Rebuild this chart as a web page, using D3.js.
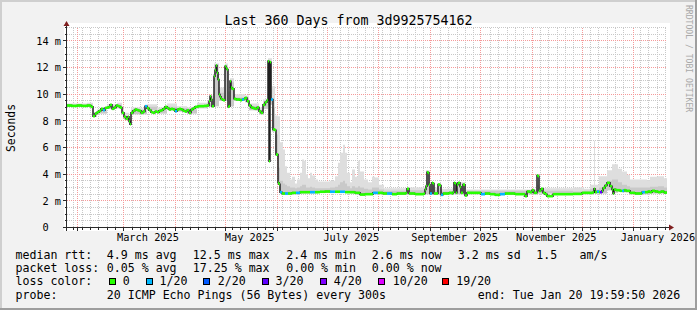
<!DOCTYPE html>
<html><head><meta charset="utf-8">
<script src="https://cdn.jsdelivr.net/npm/d3@7/dist/d3.min.js"></script>
<style>
html,body{margin:0;padding:0;background:#f2f2f2;}
svg{display:block;}
text{font-family:"DejaVu Sans Mono",monospace;fill:#000;}
</style></head><body>
<svg id="chart" width="697" height="310"></svg>
<script>
// ---------------- DATA ----------------
const title = "Last 360 Days from 3d9925754162";
const yAxisTitle = "Seconds";
const watermark = "RRDTOOL / TOBI OETIKER";
const startTime = "2025-01-25T19:59:50Z";
const endTime = "2026-01-20T19:59:50Z";
const yTickValues = [0, 2, 4, 6, 8, 10, 12, 14];        // ms
const yTickLabels = ["0", "2 m", "4 m", "6 m", "8 m", "10 m", "12 m", "14 m"];
const monthLabels = [
  ["2025-03-01", "March 2025"], ["2025-05-01", "May 2025"], ["2025-07-01", "July 2025"],
  ["2025-09-01", "September 2025"], ["2025-11-01", "November 2025"], ["2026-01-01", "January 2026"]
];
const minorGridDays = 5;
// median rtt [days since start, ms]
const median = [[0,9.15],[3,9.12],[6,9.15],[9,9.12],[12,9.15],[14.4,9.05],[15.6,8.35],[16.8,8.55],[18,8.65],[19.2,8.75],[20.4,8.9],[21.6,8.8],[22.8,8.97],[24,9.0],[25.2,9.05],[25.8,9.2],[27,8.9],[28.2,9.0],[29.4,9.15],[30.6,9.1],[31.8,9.0],[33,8.6],[34.2,8.3],[35.4,8.15],[36.6,8.3],[37.2,7.95],[37.8,7.75],[38.4,8.6],[39.6,8.75],[40.8,8.85],[42,8.8],[43.2,8.75],[44.4,8.6],[45.6,8.7],[46.8,9.1],[48,8.95],[49.2,8.8],[50.4,8.65],[51.6,8.6],[52.8,8.7],[54,8.65],[55.2,8.75],[56.4,8.8],[57.6,8.9],[58.8,9.05],[60,8.95],[61.2,8.85],[62.4,8.9],[63.6,8.85],[64.8,8.72],[66,8.85],[67.2,8.9],[68.4,8.85],[69.6,8.75],[70.8,8.7],[72,8.8],[73.2,8.6],[74.4,8.85],[75.6,8.95],[76.8,9.05],[78.6,9.1],[80.4,9.1],[82.2,9.12],[84,9.15],[85.2,9.47],[85.8,9.85],[86.4,9.6],[87,9.1],[87.6,9.1],[88.2,11.35],[88.8,11.8],[89.4,12.15],[90,11.6],[90.6,11.1],[91.2,9.97],[91.8,9.8],[92.4,9.65],[93,9.6],[93.6,9.55],[94.2,9.55],[94.8,12.1],[95.4,11.95],[96,11.85],[96.6,9.05],[97.2,9.1],[97.8,10.97],[98.4,10.5],[99,10.4],[99.6,10.4],[100.2,9.65],[101.4,9.6],[102.6,9.6],[103.8,9.55],[105,9.6],[106.2,9.65],[106.8,9.72],[108,9.47],[109.2,9.15],[110.4,9.0],[111.6,8.95],[112.8,8.9],[114,9.0],[115.2,8.72],[116.4,8.6],[117.6,9.2],[118.8,9.4],[120,9.55],[120.6,12.47],[121.2,4.97],[121.8,12.4],[122.4,9.6],[123.6,7.35],[124.8,7.3],[125.4,5.47],[126.6,3.35],[127.2,3.25],[127.8,2.65],[129,2.55],[130.8,2.55],[132.6,2.55],[135,2.6],[137.4,2.6],[139.8,2.65],[142.8,2.65],[145.8,2.65],[148.8,2.65],[151.8,2.68],[154.8,2.7],[157.8,2.68],[160.8,2.68],[163.8,2.68],[166.8,2.65],[169.8,2.65],[172.8,2.6],[175.8,2.47],[178.8,2.5],[181.8,2.5],[183.6,2.6],[186.6,2.6],[189.6,2.55],[192,2.55],[195,2.5],[198,2.55],[201,2.55],[203.4,2.6],[204,2.9],[204.6,2.9],[205.2,2.55],[208.8,2.5],[211.8,2.5],[214.2,2.55],[214.8,2.85],[215.4,3.1],[216,4.15],[216.6,4.1],[217.2,3.2],[217.8,2.55],[219,3.35],[219.6,3.3],[220.2,2.55],[222,2.55],[222.6,3.22],[223.8,3.15],[224.4,2.45],[225.6,2.55],[227.4,2.55],[229.2,2.6],[231,2.55],[231.6,2.65],[232.2,3.35],[232.8,3.3],[233.4,2.6],[234,3.2],[234.6,3.35],[235.8,3.05],[236.4,2.6],[237.6,3.22],[238.2,3.2],[238.8,2.4],[240,2.6],[243,2.6],[246,2.6],[248.4,2.5],[250.8,2.55],[253.8,2.5],[256.8,2.45],[259.8,2.5],[262.8,2.55],[265.8,2.55],[268.8,2.5],[271.8,2.5],[274.8,2.35],[276,2.7],[277.8,2.65],[279,2.8],[280.2,2.6],[281.4,2.6],[282,3.9],[282.6,3.85],[283.2,2.75],[284.4,2.9],[285.6,2.6],[286.8,2.5],[288,2.35],[289.8,2.35],[291.6,2.5],[294.6,2.5],[297.6,2.5],[300.6,2.5],[303.6,2.52],[306.6,2.52],[309,2.6],[311.4,2.6],[313.8,2.6],[315.6,2.65],[316.2,2.9],[316.8,2.65],[318,2.7],[319.2,2.65],[319.8,2.65],[321,2.75],[321.6,2.97],[322.8,3.15],[324,3.35],[324.6,3.35],[325.8,3.1],[327,2.85],[327.6,2.55],[328.2,2.85],[329.4,2.8],[330.6,2.8],[331.8,2.75],[333,2.75],[334.2,2.8],[335.4,2.75],[336.6,2.75],[337.8,2.6],[340.8,2.55],[343.8,2.55],[345,2.65],[346.8,2.65],[348.6,2.7],[349.8,2.65],[351,2.75],[352.8,2.7],[354.6,2.65],[356.4,2.7],[358.2,2.62]];
// samples with packet loss [day, loss level index]
const lossSamples = [[21.6,1],[46.8,1],[64.8,1],[105,1],[122.4,1],[127.8,1],[130.8,1],[137.4,1],[145.8,1],[157.8,1],[163.8,1],[183.6,1],[192,1],[217.8,1],[224.4,1],[248.4,1],[259.8,1],[318,1],[319.8,3],[333,1],[345,1]];
// smoke (ping spread) [day, low ms, inner ms, outer ms]
const smoke = [[0,9.05,9.2,9.3],[6,9.05,9.2,9.3],[12,9.05,9.2,9.35],[15.6,8.3,8.45,8.6],[18,8.55,8.7,8.85],[24,8.9,9.1,9.25],[30,8.95,9.2,9.35],[33,8.5,8.7,8.9],[34.2,8.1,8.35,8.6],[37.2,7.7,8.0,8.2],[38.4,8.5,8.8,9.0],[44.4,8.5,8.75,8.95],[48,8.8,9.05,9.25],[54,8.55,8.8,9.0],[60,8.85,9.05,9.3],[66,8.7,8.95,9.1],[72,8.55,8.85,9.0],[78,8.95,9.15,9.35],[84,9.05,9.3,9.45],[87,9.0,9.5,9.9],[88.2,9.1,11.5,12.3],[91.2,9.5,10.1,10.5],[94.2,9.45,9.7,9.9],[94.8,9.5,12.0,12.3],[96.6,9.0,9.5,10.2],[97.8,9.1,10.9,11.2],[100.2,9.5,9.75,10.0],[106.8,9.4,9.7,9.9],[109.2,8.8,9.1,9.3],[115.2,8.5,8.8,9.0],[117.6,8.9,9.3,9.6],[120.6,9.2,12.3,12.7],[123,7.2,9.0,10.6],[124.8,5.4,7.0,8.4],[126.6,3.3,4.5,8.35],[127.8,2.55,3.5,6.4],[129.6,2.5,3.3,5.85],[130.8,2.5,3.2,4.6],[132,2.5,3.1,4.1],[133.8,2.5,3.0,3.6],[135,2.5,3.0,3.8],[136.8,2.5,2.95,3.3],[138,2.5,3.0,3.6],[139.8,2.55,3.1,4.1],[141,2.55,3.2,5.1],[142.2,2.55,3.2,5.0],[143.4,2.55,3.0,4.0],[144.6,2.55,3.0,3.7],[145.8,2.55,3.05,4.1],[147,2.55,3.0,3.9],[148.8,2.55,2.95,3.6],[150.6,2.6,2.95,3.45],[157.8,2.6,3.0,3.5],[160.8,2.6,3.05,3.85],[162.6,2.6,3.2,4.85],[163.8,2.6,3.4,5.6],[165.6,2.6,3.5,6.2],[166.8,2.6,3.3,5.6],[168,2.6,3.1,4.1],[169.8,2.55,2.95,3.4],[171,2.55,3.1,4.35],[172.8,2.5,3.0,3.8],[174.6,2.45,3.1,5.0],[175.8,2.45,3.0,4.2],[178.2,2.45,2.9,3.6],[180.6,2.45,2.85,3.4],[183,2.5,3.0,3.8],[184.8,2.5,3.0,3.75],[187.2,2.5,2.85,3.2],[190.2,2.5,2.75,2.95],[204,2.5,2.8,3.0],[214.8,2.5,2.9,3.2],[215.4,2.5,3.4,4.3],[217.8,2.5,2.9,3.4],[219,2.5,3.1,3.4],[220.2,2.5,2.8,3.0],[222.6,2.5,3.0,3.3],[224.4,2.45,2.7,2.9],[231,2.5,2.75,2.95],[232.2,2.5,3.0,3.4],[234,2.5,3.0,3.4],[238.8,2.4,2.7,2.85],[240,2.5,2.75,2.85],[282,2.55,3.2,4.0],[283.2,2.55,2.75,2.95],[303.6,2.45,2.7,3.0],[310.2,2.5,2.75,2.9],[313.8,2.5,2.9,3.2],[316.2,2.55,2.9,6.5],[316.8,2.55,2.85,3.2],[319.2,2.55,3.0,3.85],[324,2.8,3.5,4.3],[327,2.6,3.6,4.75],[330.6,2.7,3.4,4.4],[333,2.65,3.2,4.2],[336,2.65,3.1,3.95],[337.8,2.5,3.0,3.6],[348,2.5,3.0,3.55],[349.8,2.55,3.05,3.8],[354.6,2.55,3.1,3.85],[358.2,2.55,3.0,3.7]];
const lossLegend = [["0","#26ff00"],["1/20","#00b8ff"],["2/20","#0059ff"],["3/20","#5e00ff"],["4/20","#7e00ff"],["10/20","#dd00ff"],["19/20","#ff0000"]];
const rttStats = ["median rtt:", "4.9 ms avg", "12.5 ms max", "2.4 ms min", "2.6 ms now", "3.2 ms sd", "1.5", "am/s"];
const lossStats = ["packet loss:", "0.05 % avg", "17.25 % max", "0.00 % min", "0.00 % now"];
const probeInfo = ["probe:", "20 ICMP Echo Pings (56 Bytes) every 300s", "end: Tue Jan 20 19:59:50 2026"];

// ---------------- DRAWING ----------------
const svg = d3.select("#chart");
const W = 697, H = 310;
const X0 = 67, X1 = 667, YB = 227.5, YT = 27.5;
const t0 = new Date(startTime), t1 = new Date(endTime);
const x = d3.scaleUtc().domain([t0, t1]).range([X0, X1]);
const y = d3.scaleLinear().domain([0, 15]).range([YB, YT]);
const dayDate = d => new Date(+t0 + d * 864e5);
const snap = v => Math.round(v - 0.5) + 0.5;

// background & frame
svg.append("rect").attr("width", W).attr("height", H).attr("fill", "#f2f2f2");
svg.append("rect").attr("x", 0).attr("y", 0).attr("width", W).attr("height", 2).attr("fill", "#cfcfcf");
svg.append("rect").attr("x", 0).attr("y", 0).attr("width", 2).attr("height", H).attr("fill", "#cfcfcf");
svg.append("rect").attr("x", 0).attr("y", H - 2).attr("width", W).attr("height", 2).attr("fill", "#9e9e9e");
svg.append("rect").attr("x", W - 2).attr("y", 0).attr("width", 2).attr("height", H).attr("fill", "#9e9e9e");
// canvas
svg.append("rect").attr("x", 64).attr("y", 23).attr("width", 606).attr("height", 208).attr("fill", "#ffffff");

// grid
const grid = svg.append("g");
const halfSteps = d3.range(1, 31).map(i => i * 0.5);
halfSteps.filter(v => v % 2 !== 0).forEach(v => {
  grid.append("line").attr("x1", X0).attr("x2", X1).attr("y1", snap(y(v))).attr("y2", snap(y(v)))
    .attr("stroke", "#c8c8c8").attr("stroke-dasharray", "1,1");
});
const months = d3.utcMonth.range(t0, t1);
const monthPx = months.map(d => snap(x(d)));
const minorDays = d3.utcDay.every(1).range(d3.utcDay.floor(t0), t1)
  .filter((d, i) => i % minorGridDays === 0 && d > t0)
  .filter(d => monthPx.every(p => Math.abs(p - snap(x(d))) > 2));
minorDays.forEach(d => {
  grid.append("line").attr("x1", snap(x(d))).attr("x2", snap(x(d))).attr("y1", 28).attr("y2", 228)
    .attr("stroke", "#c8c8c8").attr("stroke-dasharray", "1,1");
});
yTickValues.filter(v => v > 0).forEach(v => {
  grid.append("line").attr("x1", X0).attr("x2", X1).attr("y1", snap(y(v))).attr("y2", snap(y(v)))
    .attr("stroke", "#f59a9a").attr("stroke-dasharray", "1,1");
});
months.forEach(d => {
  grid.append("line").attr("x1", snap(x(d))).attr("x2", snap(x(d))).attr("y1", 28).attr("y2", 228)
    .attr("stroke", "#f59a9a").attr("stroke-dasharray", "1,1");
});

// smoke
const smokePts = smoke.concat([[360].concat(smoke[smoke.length - 1].slice(1))]);
const areaOuter = d3.area().curve(d3.curveStepAfter)
  .x(d => x(dayDate(d[0]))).y0(d => y(d[1])).y1(d => y(d[3]));
const areaInner = d3.area().curve(d3.curveStepAfter)
  .x(d => x(dayDate(d[0]))).y0(d => y(d[1])).y1(d => y(d[2]));
svg.append("path").attr("d", areaOuter(smokePts)).attr("fill", "#dedede");
svg.append("path").attr("d", areaInner(smokePts)).attr("fill", "#c9c9c9");

// median thin line
const medPts = median.concat([[360, median[median.length - 1][1]]]);
const line = d3.line().curve(d3.curveStepAfter).x(d => x(dayDate(d[0]))).y(d => y(d[1]));
svg.append("path").attr("d", line(medPts)).attr("fill", "none").attr("stroke", "#202020").attr("stroke-width", 1.5);

// median loss-coloured band
const lossMap = new Map(lossSamples.map(d => [d[0], d[1]]));
const bandColors = {0: "#26ff00", 1: "#00b8ff", 2: "#0059ff", 3: "#5e00ff", 4: "#7e00ff"};
median.forEach((d, i) => {
  const nx = i + 1 < median.length ? median[i + 1][0] : 360;
  const lv = lossMap.get(d[0]) || 0;
  svg.append("rect").attr("x", x(dayDate(d[0]))).attr("width", Math.max(1, x(dayDate(nx)) - x(dayDate(d[0]))))
    .attr("y", y(d[1]) - 1.3).attr("height", 2.6).attr("fill", bandColors[lv]);
});

// axes
const axisCol = "#2a2a2a", arrowCol = "#7f1f1f";
const ax = svg.append("g").attr("shape-rendering", "crispEdges");
ax.append("line").attr("x1", 63).attr("x2", 670).attr("y1", YB).attr("y2", YB).attr("stroke", axisCol);
ax.append("line").attr("x1", X0 - 0.5).attr("x2", X0 - 0.5).attr("y1", 231).attr("y2", 25).attr("stroke", axisCol);
svg.append("path").attr("d", `M669,224.5L674,227.5L669,230.5Z`).attr("fill", arrowCol);
svg.append("path").attr("d", `M63.5,26L66.5,21L69.5,26Z`).attr("fill", arrowCol);
// ticks
halfSteps.forEach(v => {
  const major = v % 2 === 0;
  ax.append("line").attr("x1", major ? 63 : 65).attr("x2", X0).attr("y1", snap(y(v))).attr("y2", snap(y(v))).attr("stroke", axisCol);
});
months.forEach(d => ax.append("line").attr("x1", snap(x(d))).attr("x2", snap(x(d))).attr("y1", YB).attr("y2", 231).attr("stroke", axisCol));
minorDays.forEach(d => ax.append("line").attr("x1", snap(x(d))).attr("x2", snap(x(d))).attr("y1", YB).attr("y2", 229.5).attr("stroke", axisCol));

// y labels
const fsAxis = 10.3;
yTickValues.forEach((v, i) => {
  const lab = yTickLabels[i];
  const endX = lab.endsWith("m") ? 61 : 61 - 2 * 0.602 * fsAxis;
  svg.append("text").attr("x", endX).attr("y", y(v) + 3.8).attr("text-anchor", "end")
    .attr("font-size", fsAxis).text(lab);
});
// x labels (centred on mid-month)
monthLabels.forEach(([ds, lab]) => {
  const d = new Date(ds + "T00:00:00Z");
  const mid = new Date(+d + 15 * 864e5);
  svg.append("text").attr("x", x(mid) - 1).attr("y", 241).attr("text-anchor", "middle").attr("font-size", fsAxis).text(lab);
});

// titles
svg.append("text").attr("x", 348.5).attr("y", 24.5).attr("text-anchor", "middle").attr("font-size", 13.3).text(title);
svg.append("text").attr("transform", "translate(15,128) rotate(-90)").attr("text-anchor", "middle")
  .attr("font-size", 11.4).text(yAxisTitle);
svg.append("text").attr("transform", "translate(685.5,5) rotate(90)").attr("text-anchor", "start")
  .attr("font-size", 8.1).style("fill", "#a8a8a8").text(watermark);

// legend
const fsLeg = 11.6;
const rowY = [258.5, 271.8, 285.2, 298.5];
const rttX = [15.5, 106.8, 192.8, 286.2, 371.8, 457.8, 536.2, 579.5];
rttStats.forEach((t, i) => svg.append("text").attr("x", rttX[i]).attr("y", rowY[0]).attr("font-size", fsLeg).text(t));
const lossX = [15.5, 106.8, 192.8, 286.2, 371.8];
lossStats.forEach((t, i) => svg.append("text").attr("x", lossX[i]).attr("y", rowY[1]).attr("font-size", fsLeg).text(t));
svg.append("text").attr("x", 15.5).attr("y", rowY[2]).attr("font-size", fsLeg).text("loss color:");
const boxX = [109.5, 146, 203.5, 262, 320.5, 378.5, 442];
const labX = [122.8, 159.5, 217.8, 275.5, 333.8, 392.8, 456.2];
lossLegend.forEach(([lab, col], i) => {
  svg.append("rect").attr("x", boxX[i]).attr("y", 278.5).attr("width", 6).attr("height", 6)
    .attr("fill", col).attr("stroke", "#000").attr("stroke-width", 1).attr("shape-rendering", "crispEdges");
  svg.append("text").attr("x", labX[i]).attr("y", rowY[2]).attr("font-size", fsLeg).text(lab);
});
const probeX = [15.5, 106.8, 477.8];
probeInfo.forEach((t, i) => svg.append("text").attr("x", probeX[i]).attr("y", rowY[3]).attr("font-size", fsLeg).text(t));
</script>
</body></html>
